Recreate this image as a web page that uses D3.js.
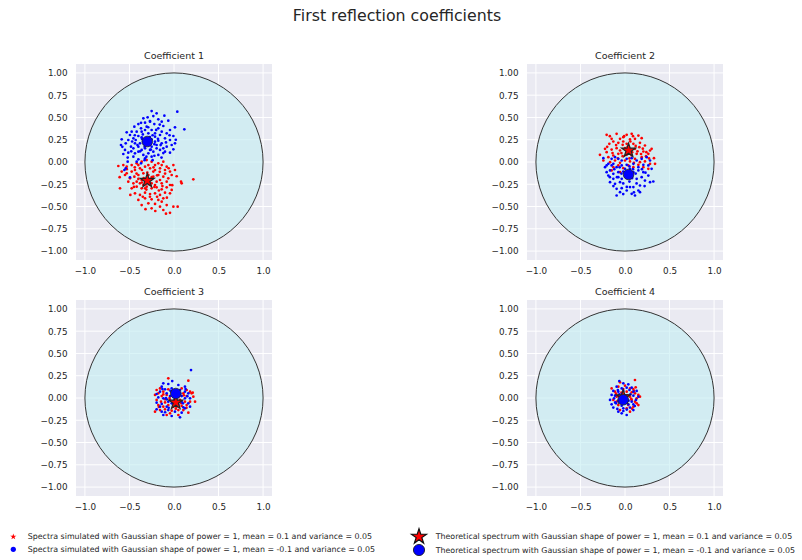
<!DOCTYPE html>
<html><head><meta charset="utf-8">
<script src="https://cdn.jsdelivr.net/npm/d3@7"></script>
<style>body{margin:0;background:#fff}svg{display:block;font-family:"DejaVu Sans",sans-serif}</style>
</head><body><svg id="c" width="802" height="560"></svg>
<script>
const mainTitle = "First reflection coefficients";
const panelTitles = ["Coefficient 1", "Coefficient 2", "Coefficient 3", "Coefficient 4"];
const xTicks = [-1, -0.5, 0, 0.5, 1];
const xTickLabels = ["\u22121.0", "\u22120.5", "0.0", "0.5", "1.0"];
const yTicks = [-1, -0.75, -0.5, -0.25, 0, 0.25, 0.5, 0.75, 1];
const yTickLabels = ["\u22121.00", "\u22120.75", "\u22120.50", "\u22120.25", "0.00", "0.25", "0.50", "0.75", "1.00"];
const legendLabels = [
  "Spectra simulated with Gaussian shape of power = 1, mean = 0.1 and variance = 0.05",
  "Spectra simulated with Gaussian shape of power = 1, mean = -0.1 and variance = 0.05",
  "Theoretical spectrum with Gaussian shape of power = 1, mean = 0.1 and variance = 0.05",
  "Theoretical spectrum with Gaussian shape of power = 1, mean = -0.1 and variance = 0.05"
];

// theoretical coefficients (x = real, y = imag), one per panel
const theoRed = [[-0.30, -0.21], [0.04, 0.13], [0.02, -0.05], [-0.02, 0.01]];
const theoBlue = [[-0.30, 0.23], [0.04, -0.14], [0.02, 0.05], [-0.02, -0.02]];

// simulated coefficients, panel 1
const simRed1 = [[-0.625,-0.045],[-0.569,-0.034],[-0.531,-0.052],[-0.475,-0.034],[-0.419,-0.015],[-0.363,0.004],[-0.307,0.022],[-0.251,0.004],[-0.213,-0.034],[-0.176,-0.015],[-0.120,0.004],[-0.082,-0.052],[-0.007,-0.034],[-0.587,-0.108],[-0.531,-0.127],[-0.475,-0.108],[-0.438,-0.090],[-0.382,-0.071],[-0.325,-0.052],[-0.269,-0.071],[-0.213,-0.090],[-0.157,-0.071],[-0.101,-0.090],[-0.045,-0.108],[0.011,-0.090],[-0.494,-0.183],[-0.445,-0.165],[-0.400,-0.146],[-0.344,-0.127],[-0.288,-0.146],[-0.232,-0.165],[-0.176,-0.146],[-0.120,-0.165],[-0.064,-0.183],[-0.026,-0.146],[0.217,-0.195],[-0.456,-0.239],[-0.419,-0.221],[-0.363,-0.202],[-0.307,-0.221],[-0.251,-0.239],[-0.195,-0.221],[-0.138,-0.239],[-0.082,-0.221],[-0.045,-0.258],[0.079,-0.221],[0.086,-0.239],[-0.606,-0.296],[-0.475,-0.296],[-0.419,-0.277],[-0.363,-0.296],[-0.307,-0.277],[-0.251,-0.296],[-0.195,-0.284],[-0.138,-0.307],[-0.082,-0.284],[-0.026,-0.314],[-0.438,-0.352],[-0.382,-0.370],[-0.325,-0.344],[-0.269,-0.359],[-0.213,-0.352],[-0.157,-0.370],[-0.101,-0.344],[-0.045,-0.352],[-0.400,-0.426],[-0.325,-0.408],[-0.251,-0.419],[-0.176,-0.426],[-0.120,-0.408],[-0.363,-0.483],[-0.288,-0.464],[-0.213,-0.471],[-0.138,-0.445],[-0.082,-0.483],[-0.251,-0.520],[-0.157,-0.501],[-0.007,-0.501],[0.041,-0.501],[-0.120,-0.539],[-0.325,-0.296],[-0.269,-0.202],[-0.344,-0.258],[-0.213,-0.258],[-0.157,-0.202],[-0.382,-0.239],[-0.513,-0.221],[-0.550,-0.146],[-0.400,-0.034],[-0.288,-0.034],[-0.138,-0.034],[-0.232,-0.108],[-0.045,-0.570],[-0.090,-0.580],
  [-0.34,-0.18],[-0.25,-0.17],[-0.28,-0.25],[-0.36,-0.23],[-0.22,-0.28],[-0.31,-0.31],[-0.40,-0.19],[-0.19,-0.15],[-0.13,-0.27],[-0.45,-0.28],[-0.30,-0.12],[-0.23,-0.06],[-0.36,-0.09],[-0.44,-0.06],[-0.10,-0.13],[-0.06,-0.07],[-0.27,-0.39],[-0.35,-0.39],[-0.19,-0.39],[-0.42,-0.13],[-0.53,-0.08],[-0.61,-0.17],[-0.17,-0.32],[-0.08,-0.40],[-0.32,-0.53],[0.03,-0.16],[-0.02,-0.26],[-0.21,-0.55],[-0.16,-0.11],[-0.49,-0.37]];
const simBlue1 = [[-0.251,0.572],[-0.195,0.546],[0.037,0.565],[-0.344,0.490],[-0.296,0.501],[-0.232,0.516],[-0.108,0.520],[-0.176,0.479],[-0.325,0.441],[-0.269,0.453],[-0.221,0.426],[-0.138,0.453],[-0.064,0.464],[-0.400,0.426],[-0.445,0.397],[-0.475,0.340],[-0.531,0.333],[-0.494,0.303],[-0.419,0.340],[-0.370,0.378],[-0.307,0.397],[-0.251,0.359],[-0.176,0.378],[-0.120,0.404],[-0.045,0.359],[0.011,0.389],[0.116,0.367],[-0.587,0.254],[-0.542,0.210],[-0.513,0.247],[-0.456,0.266],[-0.400,0.292],[-0.363,0.277],[-0.213,0.284],[-0.157,0.303],[-0.101,0.266],[-0.045,0.247],[-0.007,0.292],[-0.595,0.191],[-0.550,0.135],[-0.483,0.172],[-0.438,0.210],[-0.400,0.172],[-0.363,0.135],[-0.325,0.153],[-0.251,0.172],[-0.195,0.191],[-0.138,0.210],[-0.082,0.172],[-0.026,0.191],[0.011,0.210],[-0.438,0.097],[-0.400,0.116],[-0.344,0.079],[-0.288,0.097],[-0.232,0.116],[-0.157,0.135],[-0.101,0.116],[-0.045,0.105],[-0.007,0.142],[-0.569,0.090],[-0.513,0.105],[-0.456,0.060],[-0.400,0.030],[-0.325,0.041],[-0.251,0.060],[-0.176,0.079],[-0.520,0.004],[-0.542,-0.071],[-0.494,-0.172],[-0.557,-0.090],[-0.213,0.322],[-0.288,0.322],[-0.363,0.340],[-0.430,0.247],[-0.176,0.239],[-0.307,0.247],[-0.251,0.254],[-0.333,0.210],[-0.281,0.191],[-0.419,0.004],[-0.370,-0.015],[-0.344,0.228],[-0.213,0.228],[-0.382,0.210],[-0.138,0.340],[-0.082,0.322],[-0.195,0.153],[-0.269,0.135],[-0.120,0.153],[-0.456,0.153],[-0.325,0.359],
  [-0.36,0.26],[-0.27,0.28],[-0.22,0.20],[-0.33,0.17],[-0.24,0.30],[-0.18,0.26],[-0.41,0.19],[-0.29,0.39],[-0.35,0.31],[-0.20,0.36],[-0.15,0.19],[-0.47,0.23],[-0.26,0.14],[-0.38,0.12],[-0.31,0.06],[-0.22,0.07],[-0.12,0.10],[-0.48,0.12],[-0.44,0.30],[-0.16,0.42],[-0.27,0.46],[-0.37,0.44],[-0.09,0.22],[-0.05,0.30],[0.02,0.25],[-0.58,0.17],[-0.52,0.05],[-0.33,0.02],[-0.24,0.02],[-0.14,0.05]];

// panel 2
const simRed2 = [[-0.206,0.305],[-0.094,0.316],[0.019,0.305],[0.075,0.316],[0.150,0.297],[-0.150,0.260],[-0.056,0.260],[-0.019,0.279],[0.056,0.253],[0.112,0.260],[0.187,0.267],[-0.224,0.148],[-0.176,0.204],[-0.131,0.230],[-0.075,0.215],[-0.026,0.193],[0.019,0.204],[0.094,0.204],[0.168,0.215],[0.224,0.185],[0.281,0.129],[0.299,0.148],[-0.281,0.080],[-0.206,0.110],[-0.150,0.140],[-0.094,0.155],[-0.056,0.129],[0.000,0.155],[0.112,0.148],[0.161,0.166],[0.206,0.118],[0.262,0.092],[-0.187,0.054],[-0.131,0.073],[-0.075,0.092],[-0.026,0.065],[0.019,0.080],[0.075,0.073],[0.131,0.092],[0.187,0.054],[0.236,0.065],[0.325,0.043],[-0.168,-0.002],[-0.112,0.017],[-0.056,-0.009],[0.000,0.017],[0.056,0.006],[0.112,0.036],[0.168,-0.002],[0.224,0.006],[0.281,-0.021],[-0.131,-0.058],[-0.075,-0.039],[-0.019,-0.069],[0.094,-0.058],[0.150,-0.032],[0.206,-0.058],[0.262,-0.077],[-0.150,-0.095],[0.037,-0.039],[0.337,-0.021],[-0.056,-0.114],[-0.243,0.017],
  [0.03,0.17],[0.08,0.11],[-0.04,0.10],[0.12,0.18],[-0.10,0.19],[0.06,0.23],[-0.02,0.23],[0.14,0.12],[0.20,0.15],[-0.14,0.10],[0.05,0.04],[-0.08,0.04],[0.18,0.09],[0.24,0.11],[-0.20,0.17],[0.10,-0.01],[-0.01,0.29],[0.09,0.29],[-0.17,0.29],[0.27,0.04]];
const simBlue2 = [[-0.243,0.043],[-0.206,-0.039],[-0.150,0.036],[-0.112,0.054],[-0.075,0.036],[-0.037,0.017],[0.019,0.036],[0.075,0.043],[0.131,0.017],[0.187,0.036],[0.243,0.054],[0.281,0.017],[-0.224,-0.058],[-0.187,-0.021],[-0.131,-0.021],[-0.094,-0.058],[-0.037,-0.039],[0.019,-0.032],[0.094,-0.021],[0.150,-0.058],[0.206,-0.032],[0.262,-0.039],[0.299,-0.077],[-0.206,-0.114],[-0.168,-0.095],[-0.131,-0.133],[-0.075,-0.114],[-0.019,-0.107],[0.094,-0.114],[0.150,-0.095],[0.206,-0.114],[0.262,-0.152],[-0.187,-0.152],[-0.131,-0.189],[-0.075,-0.170],[-0.037,-0.189],[0.075,-0.170],[0.131,-0.189],[0.187,-0.170],[0.224,-0.208],[0.281,-0.226],[0.318,-0.219],[-0.168,-0.226],[-0.112,-0.245],[-0.056,-0.226],[0.056,-0.282],[0.094,-0.282],[0.168,-0.264],[-0.094,-0.301],[-0.037,-0.294],[0.019,-0.320],[0.150,-0.320],[-0.056,-0.339],[-0.094,-0.376],[0.075,-0.357],[0.112,-0.376],[0.168,-0.339],[-0.150,-0.039],[0.056,-0.077],[0.000,-0.077],
  [0.02,-0.14],[0.08,-0.18],[-0.04,-0.13],[0.12,-0.13],[-0.09,-0.17],[0.05,-0.22],[-0.02,-0.24],[0.13,-0.24],[0.19,-0.08],[-0.12,-0.08],[0.05,-0.05],[-0.06,-0.06],[0.23,-0.12],[0.09,-0.08],[-0.17,-0.17],[0.02,-0.28],[0.22,-0.27],[-0.13,-0.27],[0.10,-0.34],[-0.02,-0.36]];

// panel 3
const simRed3 = [[-0.064,0.221],[0.161,0.195],[-0.195,0.090],[-0.157,0.108],[-0.120,0.071],[-0.064,0.097],[0.086,0.108],[0.142,0.090],[0.180,0.071],[-0.176,0.052],[-0.213,0.034],[-0.138,0.022],[-0.082,0.034],[0.105,0.052],[0.142,0.022],[0.198,0.052],[0.217,0.015],[-0.195,-0.022],[-0.146,-0.041],[-0.101,-0.015],[-0.045,-0.022],[0.067,-0.022],[0.123,-0.041],[0.180,-0.041],[0.236,-0.041],[-0.176,-0.079],[-0.120,-0.097],[-0.064,-0.079],[-0.007,-0.097],[0.086,-0.090],[0.142,-0.079],[-0.213,-0.153],[-0.157,-0.135],[-0.101,-0.127],[-0.026,-0.142],[0.049,-0.135],[0.105,-0.135],[0.161,-0.165],[-0.082,-0.191],[0.049,-0.191],[-0.045,-0.172],[0.030,-0.097],
  [0.00,-0.03],[0.05,0.02],[-0.05,0.00],[0.08,-0.06],[-0.10,-0.05],[0.02,-0.12],[-0.12,0.04],[0.11,0.03],[-0.03,0.07],[0.14,-0.11],[-0.17,-0.10],[0.21,0.06]];
const simBlue3 = [[0.191,0.314],[-0.120,0.165],[-0.064,0.157],[0.049,0.146],[0.123,0.127],[-0.138,0.127],[-0.101,0.097],[-0.026,0.108],[0.067,0.090],[0.123,0.071],[0.161,0.052],[-0.195,0.045],[-0.157,0.071],[-0.082,0.052],[-0.045,0.022],[0.086,0.022],[0.123,-0.004],[0.180,-0.004],[-0.176,0.007],[-0.120,-0.004],[-0.064,-0.041],[0.011,-0.015],[0.086,-0.041],[0.161,-0.060],[-0.195,-0.052],[-0.138,-0.067],[-0.082,-0.097],[-0.026,-0.060],[0.049,-0.079],[0.105,-0.105],[0.180,-0.097],[-0.195,-0.127],[-0.138,-0.153],[-0.064,-0.135],[0.011,-0.153],[0.086,-0.165],[0.123,-0.116],[-0.120,-0.191],[-0.026,-0.202],[0.067,-0.217],[-0.157,-0.097],[-0.082,-0.015],
  [0.03,0.03],[-0.04,0.08],[0.07,0.05],[-0.09,0.00],[0.02,-0.08],[-0.06,-0.11],[0.13,0.10],[-0.13,0.10],[0.10,-0.06],[-0.02,0.19],[0.15,0.02],[-0.10,-0.16]];

// panel 4
const simRed4 = [[0.112,0.202],[-0.056,0.176],[-0.150,0.108],[-0.075,0.127],[0.000,0.138],[0.056,0.108],[0.094,0.101],[-0.112,0.071],[0.019,0.071],[0.075,0.064],[0.112,0.052],[0.150,0.034],[-0.094,0.015],[0.056,0.015],[0.131,-0.004],[0.168,0.015],[-0.131,-0.022],[0.075,-0.022],[0.112,-0.041],[0.150,-0.079],[-0.075,-0.079],[0.037,-0.079],[0.094,-0.097],[-0.056,-0.135],[0.019,-0.116],[0.056,-0.153],[-0.094,-0.041],[0.131,-0.060],
  [0.03,0.03],[-0.04,0.06],[0.07,-0.01],[-0.07,-0.02],[0.02,-0.05],[0.10,0.08],[-0.02,0.10],[0.08,-0.12],[0.12,0.12],[-0.10,0.05]];
const simBlue4 = [[-0.064,0.191],[-0.019,0.165],[0.037,0.153],[-0.094,0.127],[-0.037,0.108],[0.019,0.116],[0.075,0.116],[-0.131,0.079],[-0.075,0.071],[-0.019,0.079],[0.094,0.071],[0.131,0.079],[-0.150,0.034],[-0.112,0.026],[-0.064,0.041],[0.094,0.026],[0.150,0.015],[-0.168,-0.022],[-0.123,-0.004],[-0.075,-0.034],[0.075,-0.041],[0.123,-0.022],[-0.150,-0.071],[-0.101,-0.060],[-0.037,-0.086],[0.037,-0.071],[0.094,-0.071],[-0.131,-0.108],[-0.086,-0.123],[-0.019,-0.116],[0.056,-0.108],[-0.075,-0.153],[-0.037,-0.172],[0.019,-0.191],[0.094,-0.135],[-0.019,-0.146],
  [0.01,0.03],[-0.05,-0.01],[0.04,-0.03],[-0.03,0.05],[0.06,0.04],[-0.08,0.09],[0.02,-0.13],[-0.11,-0.05],[0.11,-0.09],[0.05,0.09]];

const simRed = [simRed1, simRed2, simRed3, simRed4];
const simBlue = [simBlue1, simBlue2, simBlue3, simBlue4];

const svg = d3.select("#c");
const panelPos = [[76, 64], [527, 64], [76, 300], [527, 300]];
const S = 196;
const ink = "#262626";

svg.append("text").attr("x", 397).attr("y", 20.5).attr("text-anchor", "middle")
  .attr("font-size", 15.8).attr("fill", ink).text(mainTitle);

const starSym = d3.symbol().type(d3.symbolStar);

panelPos.forEach((p, i) => {
  const g = svg.append("g").attr("transform", `translate(${p[0]},${p[1]})`);
  const x = d3.scaleLinear().domain([-1.1, 1.1]).range([0, S]);
  const y = d3.scaleLinear().domain([-1.1, 1.1]).range([S, 0]);
  g.append("rect").attr("width", S).attr("height", S).attr("fill", "#EAEAF2");
  g.selectAll("line.gx").data(xTicks).join("line").attr("class", "gx")
    .attr("x1", d => x(d)).attr("x2", d => x(d)).attr("y1", 0).attr("y2", S)
    .attr("stroke", "#fff").attr("stroke-width", 1);
  g.selectAll("line.gy").data(yTicks).join("line").attr("class", "gy")
    .attr("y1", d => y(d)).attr("y2", d => y(d)).attr("x1", 0).attr("x2", S)
    .attr("stroke", "#fff").attr("stroke-width", 1);
  g.append("circle").attr("cx", x(0)).attr("cy", y(0)).attr("r", x(1) - x(0))
    .attr("fill", "rgba(194,237,242,0.6)").attr("stroke", "#333").attr("stroke-width", 1);

  g.selectAll("circle.sr").data(simRed[i]).join("circle").attr("class", "sr")
    .attr("cx", d => x(d[0])).attr("cy", d => y(d[1])).attr("r", 1.35).attr("fill", "#ff0000");
  g.selectAll("circle.sb").data(simBlue[i]).join("circle").attr("class", "sb")
    .attr("cx", d => x(d[0])).attr("cy", d => y(d[1])).attr("r", 1.35).attr("fill", "#0000ff");

  g.append("path").attr("d", starSym.size(60)())
    .attr("transform", `translate(${x(theoRed[i][0])},${y(theoRed[i][1])})`)
    .attr("fill", "#ff0000").attr("stroke", "#222").attr("stroke-width", 1.2);
  g.append("circle").attr("cx", x(theoBlue[i][0])).attr("cy", y(theoBlue[i][1])).attr("r", 5.3)
    .attr("fill", "#0000ff").attr("stroke", "#222").attr("stroke-width", 0.8);

  const ax = g.append("g").attr("transform", `translate(0,${S})`)
    .call(d3.axisBottom(x).tickValues(xTicks).tickFormat((d, k) => xTickLabels[k]).tickSize(0).tickPadding(7.5));
  const ay = g.append("g")
    .call(d3.axisLeft(y).tickValues(yTicks).tickFormat((d, k) => yTickLabels[k]).tickSize(0).tickPadding(8.5));
  [ax, ay].forEach(a => {
    a.select(".domain").remove();
    a.selectAll("text").attr("font-size", 8.8).attr("fill", ink).attr("font-family", "DejaVu Sans");
  });

  g.append("text").attr("x", S / 2).attr("y", -5).attr("text-anchor", "middle")
    .attr("font-size", 9.5).attr("fill", ink).text(panelTitles[i]);
});

// legend
const lg = svg.append("g").attr("font-size", 7.9).attr("fill", ink);
const legRows = [
  {mx: 13.3, tx: 27.7, y: 536.7, kind: "smallStar", label: legendLabels[0]},
  {mx: 13.3, tx: 27.7, y: 549.3, kind: "smallCircle", label: legendLabels[1]},
  {mx: 419, tx: 435.7, y: 536.7, kind: "bigStar", label: legendLabels[2]},
  {mx: 419, tx: 435.7, y: 550, kind: "bigCircle", label: legendLabels[3]}
];
legRows.forEach(r => {
  if (r.kind === "smallStar") {
    lg.append("path").attr("d", starSym.size(12)()).attr("transform", `translate(${r.mx},${r.y})`).attr("fill", "#ff0000");
  } else if (r.kind === "smallCircle") {
    lg.append("circle").attr("cx", r.mx).attr("cy", r.y).attr("r", 2.6).attr("fill", "#0000ff");
  } else if (r.kind === "bigStar") {
    lg.append("path").attr("d", starSym.size(70)()).attr("transform", `translate(${r.mx},${r.y})`)
      .attr("fill", "#ff0000").attr("stroke", "#111").attr("stroke-width", 1.2);
  } else {
    lg.append("circle").attr("cx", r.mx).attr("cy", r.y).attr("r", 5.6)
      .attr("fill", "#0000ff").attr("stroke", "#111").attr("stroke-width", 0.8);
  }
  lg.append("text").attr("x", r.tx).attr("y", r.y).attr("dy", "0.35em").text(r.label);
});
</script></body></html>
